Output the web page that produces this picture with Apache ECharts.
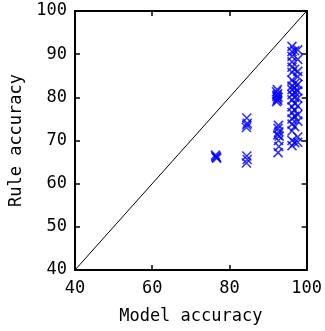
<!DOCTYPE html>
<html>
<head>
<meta charset="utf-8">
<script src="https://cdn.jsdelivr.net/npm/echarts@6/dist/echarts.min.js"></script>
<style>
  html, body { margin: 0; padding: 0; background: #fff; }
  #chart { width: 325px; height: 331px; }
</style>
</head>
<body>
<div id="chart"></div>
<script>
// model accuracy (x) vs rule accuracy (y)
const modelAcc = [
  76.5, 76.7, 76.4, 76.6,
  84.4, 84.6, 84.5, 84.4, 84.6, 84.5, 84.5,
  92.2, 92.4, 92.3, 92.5, 92.2, 92.4, 92.6, 92.3, 92.5,
  92.6, 92.8, 92.7, 92.5, 92.8, 92.6, 92.7, 92.9,
  96.2, 96.2, 96.2, 96.2, 96.2, 96.2, 96.2, 96.2, 96.2, 96.2, 96.2, 96.2, 96.2, 96.2, 96.2, 96.2, 96.2, 96.2,
  96.9, 96.9, 96.9, 96.9, 96.9, 96.9, 96.9, 96.9, 96.9, 96.9, 96.9,
  97.7, 97.7, 97.7, 97.7, 97.7, 97.7, 97.7, 97.7, 97.7, 97.7, 97.7, 97.7
];
const ruleAcc = [
  66.3, 65.9, 66.6, 66.1,
  64.8, 65.6, 66.4, 73.0, 74.0, 75.2, 73.6,
  79.0, 79.6, 80.2, 80.8, 81.3, 81.8, 80.0, 80.5, 79.3,
  67.2, 68.6, 70.0, 71.3, 72.0, 72.8, 73.5, 71.0,
  91.8, 90.6, 89.5, 88.2, 87.0, 85.8, 84.0, 82.6, 81.8, 80.6, 79.4, 77.8, 76.5, 75.0, 73.8, 72.2, 70.0, 68.8,
  90.8, 86.5, 83.2, 81.2, 80.0, 78.6, 75.6, 73.2, 69.5, 82.2, 77.0,
  91.0, 88.8, 86.0, 84.8, 83.0, 81.5, 79.8, 78.0, 76.0, 74.5, 70.8, 69.6
];
const diagonal = [[40, 40], [100, 100]];
const xTitle = 'Model accuracy';
const yTitle = 'Rule accuracy';

const FONT = '"DejaVu Sans Mono", monospace';
const CROSS = 'path://M0,0L10,10M10,0L0,10';

const chart = echarts.init(document.getElementById('chart'), null, { renderer: 'canvas' });

const axisCommon = {
  axisLine: { lineStyle: { color: '#000', width: 2 } },
  axisTick: { inside: true, length: 5, lineStyle: { color: '#000', width: 1.5 } },
  splitLine: { show: false },
};

chart.setOption({
  animation: false,
  grid: { left: 75, right: 16, top: 11, bottom: 61 },
  xAxis: [
    {
      ...axisCommon,
      type: 'value', min: 40, max: 100, interval: 20,
      name: xTitle, nameLocation: 'middle', nameGap: 38,
      nameTextStyle: { color: '#000', fontFamily: FONT, fontSize: 17 },
      axisLabel: { color: '#000', fontFamily: FONT, fontSize: 17, margin: 10 },
    },
    {
      ...axisCommon,
      type: 'value', min: 40, max: 100, interval: 20, position: 'top',
      axisLabel: { show: false },
    },
  ],
  yAxis: [
    {
      ...axisCommon,
      type: 'value', min: 40, max: 100, interval: 10,
      name: yTitle, nameLocation: 'middle', nameGap: 50,
      nameTextStyle: { color: '#000', fontFamily: FONT, fontSize: 17 },
      axisLabel: { color: '#000', fontFamily: FONT, fontSize: 17, margin: 8 },
    },
    {
      ...axisCommon,
      type: 'value', min: 40, max: 100, interval: 10, position: 'right',
      axisLabel: { show: false },
    },
  ],
  series: [
    {
      type: 'line',
      data: diagonal,
      showSymbol: false,
      lineStyle: { color: '#000', width: 1 },
      silent: true,
    },
    {
      type: 'scatter',
      data: modelAcc.map((x, i) => [x, ruleAcc[i]]),
      symbol: CROSS,
      symbolSize: 9,
      itemStyle: { color: 'none', borderColor: '#0000ff', borderWidth: 1.6 },
    },
  ],
});
</script>
</body>
</html>
